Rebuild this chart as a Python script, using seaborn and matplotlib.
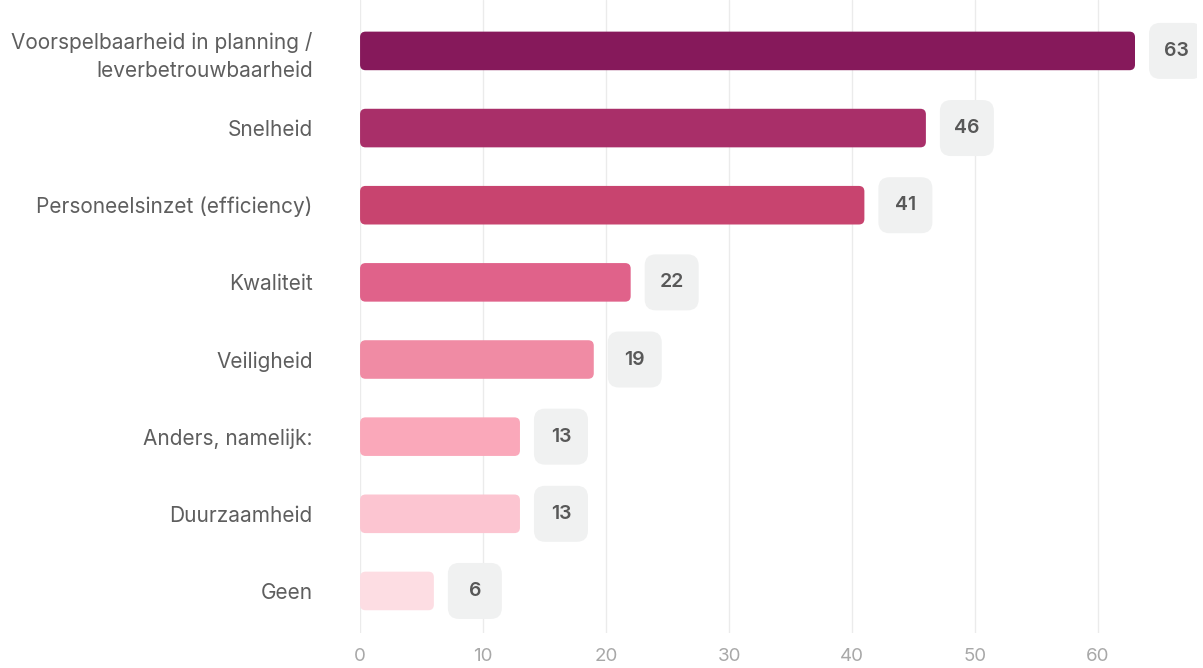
"""Horizontal bar chart: what improves with better planning"""

import matplotlib
matplotlib.use("Agg")
import matplotlib.pyplot as plt
from matplotlib.patches import FancyBboxPatch
import seaborn as sns
import pandas as pd

categories = [
    "Voorspelbaarheid in planning /\nleverbetrouwbaarheid",
    "Snelheid",
    "Personeelsinzet (efficiency)",
    "Kwaliteit",
    "Veiligheid",
    "Anders, namelijk:",
    "Duurzaamheid",
    "Geen",
]
values = [63, 46, 41, 22, 19, 13, 13, 6]
bar_colors = ["#86195B", "#A92F69", "#C8446F", "#E0628A",
              "#F08BA4", "#FAA8BA", "#FCC5D1", "#FDDDE3"]
x_ticks = [0, 10, 20, 30, 40, 50, 60]


def main():
    sns.set_theme(style="white")
    plt.rcParams["font.family"] = ["Inter", "DejaVu Sans"]

    df = pd.DataFrame({"cat": categories, "val": values})

    fig = plt.figure(figsize=(12.03, 6.68), dpi=100)
    ax = fig.add_axes([0.2993, 0.0524, 0.6953, 0.9476])

    sns.barplot(data=df, x="val", y="cat", hue="cat", palette=bar_colors,
                saturation=1, legend=False, width=0.5, ax=ax)

    ax.set_xlim(0, 68)
    ax.set_ylim(7.545, -0.66)

    # px per data unit, for rounding corners
    x_px = ax.bbox.width / 68
    y_px = ax.bbox.height / 8.205
    aspect = x_px / y_px

    # replace square bars with rounded ones
    for patch in list(ax.patches):
        x0, y0 = patch.get_x(), patch.get_y()
        w, h = patch.get_width(), patch.get_height()
        rounded = FancyBboxPatch((x0, y0), w, h,
                                 boxstyle="round,pad=0,rounding_size=0.45",
                                 mutation_aspect=aspect,
                                 facecolor=patch.get_facecolor(),
                                 edgecolor="none", zorder=3)
        patch.remove()
        ax.add_patch(rounded)

    # value badges
    box_w = 54 / x_px
    box_h = 56 / y_px
    for i, v in enumerate(values):
        cx = v + 41 / x_px
        badge = FancyBboxPatch((cx - box_w / 2, i - box_h / 2), box_w, box_h,
                               boxstyle="round,pad=0,rounding_size=0.9",
                               mutation_aspect=aspect,
                               facecolor="#F0F1F1", edgecolor="none", zorder=3)
        ax.add_patch(badge)
        ax.text(cx, i, str(v), ha="center", va="center", fontsize=14,
                fontweight="semibold", color="#585858", zorder=4)

    ax.set_xticks(x_ticks)
    ax.grid(axis="x", color="#EBEBEB", linewidth=1, zorder=0)
    ax.set_axisbelow(True)
    sns.despine(ax=ax, left=True, bottom=True)

    ax.set_xlabel("")
    ax.set_ylabel("")
    ax.tick_params(axis="x", length=0, pad=11, labelsize=13.5, labelcolor="#A8A8A8")
    ax.tick_params(axis="y", length=0, pad=34, labelsize=15, labelcolor="#5E5E5E")
    for lbl in ax.get_yticklabels():
        lbl.set_linespacing(1.45)

    plt.savefig("out.png", dpi=100)
    plt.close()


if __name__ == "__main__":
    main()
